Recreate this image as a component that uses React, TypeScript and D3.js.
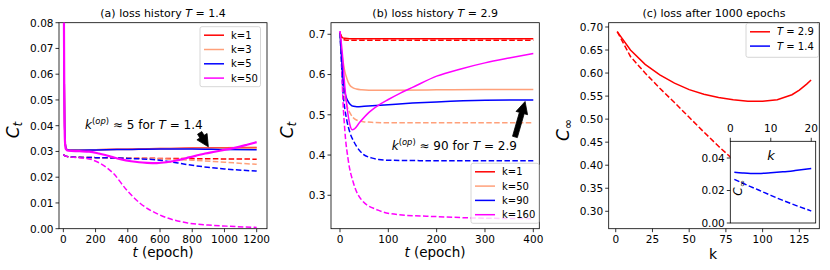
import React from 'react';
import * as d3 from 'd3';

// ---------- Data ----------
// Panel (a): loss history T = 1.4
const aRedSolidT = [0, 4, 8, 12, 20, 40, 200, 400, 600, 800, 1000, 1200];
const aRedSolid = [0.2, 0.07, 0.04, 0.033, 0.0308, 0.0306, 0.0307, 0.0309, 0.0311, 0.0313, 0.0314, 0.0315];
const aOrangeSolid = [0.2, 0.07, 0.04, 0.033, 0.0308, 0.0306, 0.0307, 0.0308, 0.031, 0.0311, 0.0312, 0.0312];
const aBlueSolid = [0.2, 0.07, 0.04, 0.033, 0.0308, 0.0305, 0.0306, 0.0308, 0.031, 0.031, 0.0308, 0.0307];
const aMagSolidT = [0, 3, 6, 10, 15, 30, 100, 160, 220, 260, 300, 360, 420, 470, 520, 580, 640, 680, 740, 780, 840, 880, 940, 990, 1040, 1090, 1140, 1200];
const aMagSolid = [0.2, 0.09, 0.05, 0.034, 0.031, 0.0303, 0.0301, 0.0299, 0.0292, 0.0286, 0.0279, 0.0269, 0.0262, 0.0258, 0.0256, 0.0255, 0.0258, 0.0262, 0.0270, 0.0277, 0.0286, 0.0292, 0.0299, 0.0305, 0.0311, 0.0318, 0.0326, 0.0336];
const aDashT = [0, 10, 50, 200, 400, 600, 800, 1000, 1200];
const aRedDash = [0.0288, 0.0283, 0.0278, 0.0276, 0.0274, 0.0273, 0.0272, 0.0271, 0.0270];
const aOrangeDash = [0.0288, 0.0283, 0.0278, 0.0276, 0.0274, 0.0271, 0.0266, 0.0258, 0.0250];
const aBlueDash = [0.0288, 0.0283, 0.0278, 0.0276, 0.0273, 0.0266, 0.0246, 0.0232, 0.0224];
const aMagDashT = [0, 10, 50, 145, 227, 310, 393, 476, 600, 765, 900, 1014, 1200];
const aMagDash = [0.0288, 0.0283, 0.0278, 0.0273, 0.0254, 0.0215, 0.0150, 0.0099, 0.0053, 0.0023, 0.0014, 0.0010, 0.0005];
const aLegend = ['k=1', 'k=3', 'k=5', 'k=50'];

// Panel (b): loss history T = 2.9
const bRedT = [0, 3, 6, 10, 20, 50, 100, 200, 300, 400];
const bRedSolid = [0.704, 0.695, 0.691, 0.690, 0.689, 0.689, 0.689, 0.689, 0.689, 0.689];
const bRedDash = [0.704, 0.692, 0.688, 0.686, 0.685, 0.685, 0.685, 0.685, 0.685, 0.685];
const bOrangeSolidT = [0, 3, 7, 10, 14, 20, 27, 34, 45, 60, 100, 200, 300, 400];
const bOrangeSolid = [0.704, 0.66, 0.628, 0.608, 0.591, 0.574, 0.567, 0.564, 0.562, 0.561, 0.561, 0.562, 0.563, 0.563];
const bOrangeDashT = [0, 3, 6, 10, 15, 21, 27, 34, 48, 70, 100, 200, 300, 400];
const bOrangeDash = [0.704, 0.64, 0.58, 0.545, 0.52, 0.504, 0.493, 0.487, 0.483, 0.481, 0.480, 0.480, 0.480, 0.480];
const bBlueSolidT = [0, 3, 6, 10, 14, 17, 22, 28, 35, 50, 100, 150, 200, 300, 400];
const bBlueSolid = [0.704, 0.65, 0.595, 0.557, 0.54, 0.533, 0.525, 0.521, 0.520, 0.521, 0.525, 0.529, 0.532, 0.536, 0.537];
const bBlueDashT = [0, 3, 6, 10, 14, 21, 28, 34, 48, 65, 80, 100, 200, 300, 400];
const bBlueDash = [0.704, 0.63, 0.56, 0.515, 0.487, 0.454, 0.435, 0.422, 0.402, 0.393, 0.389, 0.387, 0.386, 0.386, 0.386];
const bMagSolidT = [0, 5, 10, 15, 20, 25, 30, 40, 60, 80, 100, 125, 150, 200, 250, 300, 350, 400];
const bMagSolid = [0.708, 0.65, 0.57, 0.515, 0.478, 0.463, 0.465, 0.480, 0.506, 0.524, 0.538, 0.554, 0.568, 0.596, 0.614, 0.629, 0.641, 0.652];
const bMagDashT = [0, 3, 5, 10, 17, 28, 45, 79, 120, 200, 300, 400];
const bMagDash = [0.708, 0.653, 0.57, 0.462, 0.388, 0.330, 0.288, 0.263, 0.252, 0.247, 0.243, 0.242];
const bLegend = ['k=1', 'k=50', 'k=90', 'k=160'];

// Panel (c): loss after 1000 epochs
const cK = [1, 10, 20, 30, 40, 50, 60, 70, 80, 90, 100, 110, 120, 125, 130, 133];
const cRedSolid = [0.690, 0.650, 0.619, 0.596, 0.578, 0.564, 0.554, 0.547, 0.542, 0.539, 0.539, 0.542, 0.553, 0.563, 0.576, 0.585];
const cRedDash = [0.690, 0.636, 0.600, 0.567, 0.536, 0.504, 0.472, 0.441, 0.412, 0.386, 0.364, 0.344, 0.327, 0.319, 0.312, 0.308];
const insetK = [1, 3, 5, 7, 10, 13, 16, 20];
const insetBlueSolid = [0.0313, 0.0308, 0.0305, 0.0305, 0.0309, 0.0315, 0.0323, 0.0335];
const insetBlueDash = [0.0269, 0.0246, 0.0224, 0.0203, 0.0170, 0.0139, 0.0110, 0.0074];

const aXTicks = [0, 200, 400, 600, 800, 1000, 1200];
const aYTicks = [0, 0.01, 0.02, 0.03, 0.04, 0.05, 0.06, 0.07, 0.08];
const bXTicks = [0, 100, 200, 300, 400];
const bYTicks = [0.3, 0.4, 0.5, 0.6, 0.7];
const cXTicks = [0, 25, 50, 75, 100, 125];
const cYTicks = [0.30, 0.35, 0.40, 0.45, 0.50, 0.55, 0.60, 0.65, 0.70];
const insetXTicks = [0, 10, 20];
const insetYTicks = [0, 0.02, 0.04];

const RED = '#ff0000';
const SALMON = '#ffa07a';
const BLUE = '#0000ff';
const MAG = '#ff00ff';
const FONT = 'DejaVu Sans, sans-serif';
const DASH = '5.5,2.4';
const TICK_FS = 10.5;

type Sc = d3.ScaleLinear<number, number>;

function Line({ xs, ys, x, y, color, dashed, w = 1.5, clip, curve = d3.curveMonotoneX }: any) {
  const gen = d3.line<number>().x((_, i) => x(xs[i])).y((d) => y(d)).curve(curve);
  return (
    <path d={gen(ys) || ''} fill="none" stroke={color} strokeWidth={w}
      strokeDasharray={dashed ? DASH : undefined} clipPath={`url(#${clip})`} />
  );
}

function Frame({ x, y, xt, yt, xfmt, yfmt, id }: { x: Sc; y: Sc; xt: number[]; yt: number[]; xfmt: (v: number) => string; yfmt: (v: number) => string; id: string }) {
  const [x0, x1] = x.range();
  const [y0, y1] = y.range();
  return (
    <g>
      <rect x={x0} y={y1} width={x1 - x0} height={y0 - y1} fill="none" stroke="#000" strokeWidth={0.8} />
      {xt.map((v) => (
        <g key={'x' + v}>
          <line x1={x(v)} x2={x(v)} y1={y0} y2={y0 + 3.5} stroke="#000" strokeWidth={0.8} />
          <text x={x(v)} y={y0 + 14.2} textAnchor="middle" fontSize={TICK_FS} fontFamily={FONT}>{xfmt(v)}</text>
        </g>
      ))}
      {yt.map((v) => (
        <g key={'y' + v}>
          <line x1={x0 - 3.5} x2={x0} y1={y(v)} y2={y(v)} stroke="#000" strokeWidth={0.8} />
          <text x={x0 - 5.5} y={y(v) + 3.8} textAnchor="end" fontSize={TICK_FS} fontFamily={FONT}>{yfmt(v)}</text>
        </g>
      ))}
      <clipPath id={id}><rect x={x0} y={y1} width={x1 - x0} height={y0 - y1} /></clipPath>
    </g>
  );
}

function Legend({ x, y, w, h, items, colors, T }: any) {
  return (
    <g>
      <rect x={x} y={y} width={w} height={h} rx={2} fill="#fff" fillOpacity={0.8} stroke="#cccccc" strokeWidth={0.8} />
      {items.map((s: string, i: number) => (
        <g key={s}>
          <line x1={x + 4} x2={x + 24} y1={y + 8.5 + i * 14.3} y2={y + 8.5 + i * 14.3} stroke={colors[i]} strokeWidth={1.5} />
          <text x={x + 31} y={y + 12 + i * 14.3} fontSize={10} fontFamily={FONT}>
            {T ? (<><tspan fontStyle="italic">T</tspan><tspan> = {s}</tspan></>) : s}
          </text>
        </g>
      ))}
    </g>
  );
}

function Arrow({ x1, y1, x2, y2 }: { x1: number; y1: number; x2: number; y2: number }) {
  const dx = x2 - x1, dy = y2 - y1;
  const L = Math.hypot(dx, dy);
  const ux = dx / L, uy = dy / L;
  const px = -uy, py = ux;
  const hl = Math.min(12, L * 0.75), hw = 6, sw = 2.5;
  const bx = x2 - ux * hl, by = y2 - uy * hl;
  const pts = [
    [x1 + px * sw, y1 + py * sw], [bx + px * sw, by + py * sw], [bx + px * hw, by + py * hw],
    [x2, y2], [bx - px * hw, by - py * hw], [bx - px * sw, by - py * sw], [x1 - px * sw, y1 - py * sw],
  ];
  return <polygon points={pts.map((p) => p.join(',')).join(' ')} fill="#000" stroke="#000" strokeWidth={0.8} />;
}

export default function App() {
  // scales
  const ax = d3.scaleLinear().domain([-27, 1264]).range([59, 267]);
  const ay = d3.scaleLinear().domain([0, 0.08]).range([228.7, 22.7]);
  const bx = d3.scaleLinear().domain([-18.6, 412.4]).range([331, 539.3]);
  const by = d3.scaleLinear().domain([0.217, 0.7288]).range([228.7, 22.7]);
  const cx = d3.scaleLinear().domain([-4.8, 138.6]).range([608.7, 819.3]);
  const cy = d3.scaleLinear().domain([0.2622, 0.7093]).range([228.7, 22.7]);
  const ix = d3.scaleLinear().domain([0, 21.1]).range([730.3, 815.7]);
  const iy = d3.scaleLinear().domain([0, 0.0503]).range([223, 141.3]);

  const f2 = (v: number) => v.toFixed(2);
  const f1 = (v: number) => v.toFixed(1);
  const f0 = (v: number) => String(v);

  return (
    <svg width={830} height={270} style={{ position: 'absolute', left: 0, top: 0, background: '#fff' }} fontFamily={FONT}>
      <rect x={0} y={0} width={830} height={270} fill="#fff" />

      {/* ---------- Panel (a) ---------- */}
      <Frame x={ax} y={ay} xt={aXTicks} yt={aYTicks} xfmt={f0} yfmt={f2} id="clipA" />
      <Line xs={aDashT} ys={aRedDash} x={ax} y={ay} color={RED} dashed clip="clipA" />
      <Line xs={aDashT} ys={aOrangeDash} x={ax} y={ay} color={SALMON} dashed clip="clipA" />
      <Line xs={aDashT} ys={aBlueDash} x={ax} y={ay} color={BLUE} dashed clip="clipA" />
      <Line xs={aMagDashT} ys={aMagDash} x={ax} y={ay} color={MAG} dashed clip="clipA" />
      <Line xs={aRedSolidT} ys={aRedSolid} x={ax} y={ay} color={RED} clip="clipA" />
      <Line xs={aRedSolidT} ys={aOrangeSolid} x={ax} y={ay} color={SALMON} clip="clipA" />
      <Line xs={aRedSolidT} ys={aBlueSolid} x={ax} y={ay} color={BLUE} clip="clipA" />
      <Line xs={aMagSolidT} ys={aMagSolid} x={ax} y={ay} color={MAG} w={2.2} clip="clipA" />
      <Legend x={200} y={26.7} w={60.5} h={60} items={aLegend} colors={[RED, SALMON, BLUE, MAG]} />
      <text x={ax(135)} y={ay(0.0387)} fontSize={12} fontFamily={FONT}>
        <tspan fontStyle="italic">k</tspan>
        <tspan fontSize={8.4} dy={-5}>(</tspan><tspan fontSize={8.4} fontStyle="italic">op</tspan><tspan fontSize={8.4}>)</tspan>
        <tspan dy={5}> ≈ 5 for </tspan><tspan fontStyle="italic">T</tspan><tspan> = 1.4</tspan>
      </text>
      <Arrow x1={ax(846)} y1={ay(0.0372)} x2={ax(900)} y2={ay(0.0318)} />
      <text x={(59 + 267) / 2} y={17} textAnchor="middle" fontSize={11} fontFamily={FONT}>
        (a) loss history <tspan fontStyle="italic">T</tspan> = 1.4
      </text>
      <text x={163} y={257} textAnchor="middle" fontSize={13.5} fontFamily={FONT}>
        <tspan fontStyle="italic">t</tspan> (epoch)
      </text>
      <text transform="translate(19,130) rotate(-90)" textAnchor="middle" fontSize={17} fontFamily={FONT}>
        <tspan fontStyle="italic">C</tspan><tspan fontStyle="italic" fontSize={12} dy={3}>t</tspan>
      </text>

      {/* ---------- Panel (b) ---------- */}
      <Frame x={bx} y={by} xt={bXTicks} yt={bYTicks} xfmt={f0} yfmt={f1} id="clipB" />
      <Line xs={bRedT} ys={bRedDash} x={bx} y={by} color={RED} dashed clip="clipB" />
      <Line xs={bOrangeDashT} ys={bOrangeDash} x={bx} y={by} color={SALMON} dashed clip="clipB" />
      <Line xs={bBlueDashT} ys={bBlueDash} x={bx} y={by} color={BLUE} dashed clip="clipB" />
      <Line xs={bMagDashT} ys={bMagDash} x={bx} y={by} color={MAG} dashed clip="clipB" />
      <Line xs={bRedT} ys={bRedSolid} x={bx} y={by} color={RED} clip="clipB" />
      <Line xs={bOrangeSolidT} ys={bOrangeSolid} x={bx} y={by} color={SALMON} clip="clipB" />
      <Line xs={bBlueSolidT} ys={bBlueSolid} x={bx} y={by} color={BLUE} clip="clipB" />
      <Line xs={bMagSolidT} ys={bMagSolid} x={bx} y={by} color={MAG} clip="clipB" />
      <Legend x={471} y={163.3} w={68} h={60} items={bLegend} colors={[RED, SALMON, BLUE, MAG]} />
      <text x={bx(107)} y={by(0.4125)} fontSize={12} fontFamily={FONT}>
        <tspan fontStyle="italic">k</tspan>
        <tspan fontSize={8.4} dy={-5}>(</tspan><tspan fontSize={8.4} fontStyle="italic">op</tspan><tspan fontSize={8.4}>)</tspan>
        <tspan dy={5}> ≈ 90 for </tspan><tspan fontStyle="italic">T</tspan><tspan> = 2.9</tspan>
      </text>
      <Arrow x1={bx(362)} y1={by(0.445)} x2={bx(383)} y2={by(0.533)} />
      <text x={(331 + 539.3) / 2} y={17} textAnchor="middle" fontSize={11} fontFamily={FONT}>
        (b) loss history <tspan fontStyle="italic">T</tspan> = 2.9
      </text>
      <text x={435} y={257} textAnchor="middle" fontSize={13.5} fontFamily={FONT}>
        <tspan fontStyle="italic">t</tspan> (epoch)
      </text>
      <text transform="translate(293,130) rotate(-90)" textAnchor="middle" fontSize={17} fontFamily={FONT}>
        <tspan fontStyle="italic">C</tspan><tspan fontStyle="italic" fontSize={12} dy={3}>t</tspan>
      </text>

      {/* ---------- Panel (c) ---------- */}
      <Frame x={cx} y={cy} xt={cXTicks} yt={cYTicks} xfmt={f0} yfmt={f2} id="clipC" />
      <Line xs={cK} ys={cRedSolid} x={cx} y={cy} color={RED} clip="clipC" curve={d3.curveLinear} />
      <Line xs={cK} ys={cRedDash} x={cx} y={cy} color={RED} dashed clip="clipC" curve={d3.curveLinear} />
      <Legend x={746} y={23.3} w={72.5} h={34} items={['2.9', '1.4']} colors={[RED, BLUE]} T />
      <text x={(608.7 + 819.3) / 2} y={17} textAnchor="middle" fontSize={11} fontFamily={FONT}>
        (c) loss after 1000 epochs
      </text>
      <text x={713} y={259} textAnchor="middle" fontSize={14} fontFamily={FONT}>k</text>
      <text transform="translate(569,130) rotate(-90)" textAnchor="middle" fontSize={17} fontFamily={FONT}>
        <tspan fontStyle="italic">C</tspan><tspan fontSize={12} dy={3}>∞</tspan>
      </text>

      {/* inset */}
      <rect x={730.3} y={141.3} width={815.7 - 730.3} height={223 - 141.3} fill="#fff" />
      <clipPath id="clipI"><rect x={730.3} y={141.3} width={815.7 - 730.3} height={223 - 141.3} /></clipPath>
      <Line xs={insetK} ys={insetBlueSolid} x={ix} y={iy} color={BLUE} clip="clipI" />
      <Line xs={insetK} ys={insetBlueDash} x={ix} y={iy} color={BLUE} dashed clip="clipI" />
      <rect x={730.3} y={141.3} width={815.7 - 730.3} height={223 - 141.3} fill="none" stroke="#000" strokeWidth={0.8} />
      {insetXTicks.map((v) => (
        <g key={'ix' + v}>
          <line x1={ix(v)} x2={ix(v)} y1={141.3} y2={137.8} stroke="#000" strokeWidth={0.8} />
          <text x={ix(v)} y={131.5} textAnchor="middle" fontSize={TICK_FS} fontFamily={FONT}>{f0(v)}</text>
        </g>
      ))}
      {insetYTicks.map((v) => (
        <g key={'iy' + v}>
          <line x1={726.8} x2={730.3} y1={iy(v)} y2={iy(v)} stroke="#000" strokeWidth={0.8} />
          <text x={724.8} y={iy(v) + 3.8} textAnchor="end" fontSize={TICK_FS} fontFamily={FONT}>{f2(v)}</text>
        </g>
      ))}
      <text x={771} y={160} textAnchor="middle" fontSize={13} fontStyle="italic" fontFamily={FONT}>k</text>
      <text transform="translate(742,188) rotate(-90)" textAnchor="middle" fontSize={12} fontFamily={FONT}>
        <tspan fontStyle="italic">C</tspan><tspan fontSize={8.5} dy={2.5}>∞</tspan>
      </text>
    </svg>
  );
}
